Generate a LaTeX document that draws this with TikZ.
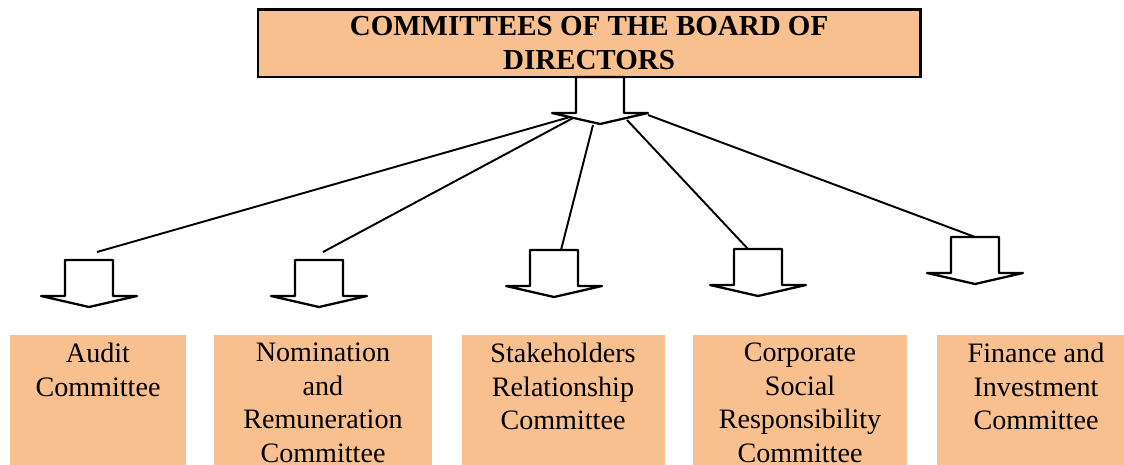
\documentclass[tikz,border=0pt]{standalone}
\usepackage{fontspec}
\setmainfont{Liberation Serif}
\usepackage{tikz}
\usetikzlibrary{calc}
\definecolor{peach}{RGB}{248,191,143}
% hollow block arrow pointing down, top centre at (#1,#2), named #3
\def\hollowarrow(#1,#2)[#3]{\draw[line width=1.3pt, line join=round, fill=white] (#1-24,#2) -- (#1-24,#2+36) -- (#1-48,#2+36) -- (#1,#2+47) -- (#1+48,#2+36) -- (#1+24,#2+36) -- (#1+24,#2) -- cycle; \coordinate (#3) at (#1,#2);}

\begin{document}
\begin{tikzpicture}[x=0.02cm, y=-0.02cm]
			%%%%% START %%%%%
			\useasboundingbox (0,0) rectangle (1124,465);
			\tikzset{
				committee/.style={anchor=north, inner sep=0pt, align=center, font=\fontsize{16}{19}\selectfont},
				link/.style={line width=1.1pt}
			}
			
			\draw[fill=peach, line width=1.7pt] (258,10) rectangle (920,77);
			\node[inner sep=0pt, align=center, font=\fontsize{16.5}{19.2}\selectfont\bfseries] (board) at (589,43) {COMMITTEES OF THE BOARD OF\\DIRECTORS};
			
			\hollowarrow(600,77)[top]
			\coordinate (s1) at (570,117);
			\coordinate (s2) at (573,118);
			\coordinate (s3) at (593,125);
			\coordinate (s4) at (627,120);
			\coordinate (s5) at (648,115);
			
			\hollowarrow(89,260)[a1]
			\hollowarrow(319,260)[a2]
			\hollowarrow(554,250)[a3]
			\hollowarrow(758,249)[a4]
			\hollowarrow(975,237)[a5]
			
			\coordinate (e1) at (97,252);
			\coordinate (e2) at (323,252);
			\coordinate (e3) at (561,250);
			\coordinate (e4) at (748,249);
			\coordinate (e5) at (975,237);
			
			\draw[link] (s1) -- (e1);
			\draw[link] (s2) -- (e2);
			\draw[link] (s3) -- (e3);
			\draw[link] (s4) -- (e4);
			\draw[link] (s5) -- (e5);
			
			\fill[peach] (10,335) rectangle (186,465);
			\fill[peach] (214,335) rectangle (432,465);
			\fill[peach] (462,335) rectangle (665,465);
			\fill[peach] (693,335) rectangle (907,465);
			\fill[peach] (937,335) rectangle (1124,465);
			
			\node[committee] (audit) at (98,343) {Audit\\Committee};
			\node[committee] (nomination) at (323,343) {Nomination\\and\\Remuneration\\Committee};
			\node[committee] (stakeholders) at (563,343) {Stakeholders\\Relationship\\Committee};
			\node[committee] (csr) at (800,343) {Corporate\\Social\\Responsibility\\Committee};
			\node[committee] (finance) at (1036,343) {Finance and\\Investment\\Committee};
			
			%%%%% END %%%%%
		\end{tikzpicture}
\end{document}
